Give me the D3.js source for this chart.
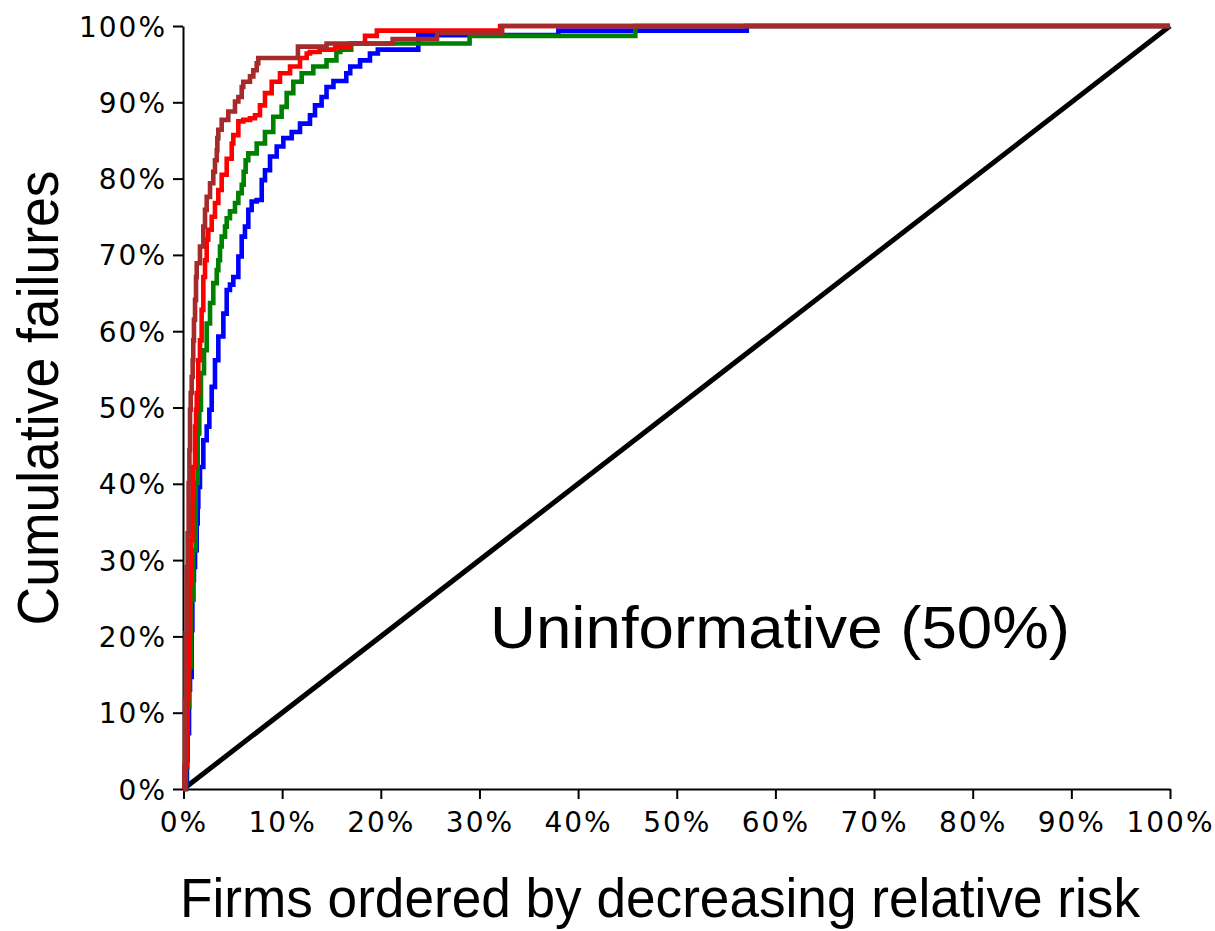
<!DOCTYPE html>
<html>
<head>
<meta charset="utf-8">
<script src="https://cdn.jsdelivr.net/npm/d3@7"></script>
<style>
  html, body { margin: 0; padding: 0; background: #fff; }
  svg { display: block; }
</style>
</head>
<body>
<svg id="chart" width="1215" height="931"></svg>
<script>
// ---- data (percent of firms, percent of cumulative failures) ----
const xTicks = [0, 10, 20, 30, 40, 50, 60, 70, 80, 90, 100];
const yTicks = [0, 10, 20, 30, 40, 50, 60, 70, 80, 90, 100];

const seriesBlue = [[0,0],[0.25,0.8],[0.35,3.8],[0.42,7.3],[0.56,13.0],[0.66,14.7],[0.83,20.8],[0.9,24.8],[0.99,27.4],[1.06,29.1],[1.17,31.3],[1.34,34.8],[1.44,37.0],[1.5,39.6],[1.67,42.2],[2.01,45.7],[2.35,47.5],[2.62,49.7],[2.86,52.7],[3.19,56.2],[3.53,59.3],[4.04,62.3],[4.38,65.4],[4.71,66.1],[5.05,67.1],[5.56,69.8],[5.9,72.4],[6.23,73.7],[6.57,75.9],[6.91,77.0],[7.42,77.2],[7.93,79.8],[8.26,81.1],[8.77,82.9],[9.45,84.2],[10.12,85.3],[10.97,86.1],[11.81,87.2],[12.82,88.3],[13.33,89.6],[14.0,90.7],[14.5,92.0],[15.2,92.8],[16.5,93.8],[16.9,94.7],[17.9,95.5],[18.9,96.4],[19.7,96.9],[23.8,98.8],[38.0,99.4],[57.1,100],[100,100]];

const seriesGreen = [[0,0],[0.25,2.9],[0.39,10.8],[0.59,16.0],[0.76,24.8],[0.99,31.3],[1.24,40.1],[1.44,46.6],[1.6,49.7],[1.77,54.5],[2.08,57.5],[2.35,61.0],[2.69,63.7],[3.02,66.3],[3.37,68.0],[3.53,69.3],[3.7,71.1],[3.87,72.4],[4.21,73.7],[4.38,74.8],[4.71,75.7],[5.22,76.8],[5.56,78.1],[5.9,79.2],[6.1,80.9],[6.3,82.4],[6.57,83.3],[7.42,84.6],[8.26,86.1],[9.1,88.1],[9.95,89.4],[10.46,91.2],[11.13,92.7],[11.98,93.8],[13.16,94.7],[14.5,95.5],[15.5,96.6],[15.9,96.9],[17.0,97.7],[29.0,98.7],[45.8,100],[100,100]];

const seriesRed = [[0,0],[0.1,3.0],[0.32,7.3],[0.42,11.7],[0.49,16.0],[0.56,20.4],[0.66,27.0],[0.76,32.6],[0.9,37.9],[0.99,42.2],[1.17,47.5],[1.27,49.7],[1.34,51.9],[1.5,56.2],[1.67,58.8],[1.84,62.8],[2.01,67.1],[2.18,69.3],[2.35,72.0],[2.51,73.3],[2.86,75.0],[3.19,76.8],[3.53,78.5],[3.87,80.5],[4.38,82.6],[4.89,84.6],[5.05,85.7],[5.56,87.5],[6.06,87.7],[6.74,87.9],[7.25,88.3],[7.75,89.6],[8.26,91.2],[8.94,92.7],[9.78,93.8],[10.8,94.7],[11.81,95.8],[12.49,96.4],[12.82,96.6],[13.8,96.9],[15.4,97.3],[16.9,97.7],[18.4,98.7],[19.6,99.4],[32.1,100],[100,100]];

const seriesBrown = [[0,0],[0.08,2.9],[0.15,11.7],[0.22,20.4],[0.32,29.1],[0.42,33.5],[0.52,40.1],[0.6,44.4],[0.66,49.7],[0.73,51.9],[0.83,54.0],[0.93,56.2],[0.99,58.8],[1.06,61.5],[1.17,64.1],[1.27,67.1],[1.34,68.9],[1.67,71.1],[2.01,73.7],[2.18,75.9],[2.35,77.6],[2.69,79.4],[3.02,80.9],[3.19,82.4],[3.37,83.7],[3.43,85.3],[3.53,86.4],[3.87,87.7],[4.54,88.8],[5.22,90.1],[5.56,90.7],[5.9,92.0],[6.06,92.7],[6.74,93.4],[7.08,94.2],[7.42,95.1],[7.58,95.8],[11.6,97.3],[14.5,97.7],[21.2,98.3],[25.7,99.1],[32.3,100],[100,100]];

const seriesDiagonal = [[0,0],[100,100]];

const seriesColors = ["#0000ff", "#008000", "#ff0000", "#a52a2a"];
const xTitle = "Firms ordered by decreasing relative risk";
const yTitle = "Cumulative failures";
const noteText = "Uninformative (50%)";

// ---- drawing ----
const svg = d3.select("#chart");
const x = d3.scaleLinear().domain([0, 100]).range([183.5, 1170]);
const y = d3.scaleLinear().domain([0, 100]).range([789, 26]);

const tickFont = "'DejaVu Sans', sans-serif";

// axes
const xAxis = d3.axisBottom(x).tickValues(xTicks).tickFormat(d => d + "%").tickSize(10).tickSizeOuter(0).tickPadding(13);
const yAxis = d3.axisLeft(y).tickValues(yTicks).tickFormat(d => d + "%").tickSize(10).tickSizeOuter(0).tickPadding(6);

const gx = svg.append("g").attr("transform", "translate(0,789)").call(xAxis);
const gy = svg.append("g").attr("transform", "translate(183,0)").call(yAxis);

[gx, gy].forEach(g => {
  g.select(".domain").attr("stroke", "#000").attr("stroke-width", 2);
  g.selectAll(".tick line").attr("stroke", "#000").attr("stroke-width", 2);
  g.selectAll(".tick text")
    .attr("fill", "#000")
    .style("font-family", tickFont)
    .style("font-size", "28px")
    .style("letter-spacing", "2px");
});
gx.selectAll(".tick text").attr("dy", "0.71em");
gy.selectAll(".tick text").attr("dy", "0.36em");

// diagonal
const lineLinear = d3.line().x(d => x(d[0])).y(d => y(d[1]));
svg.append("path")
  .datum(seriesDiagonal)
  .attr("d", lineLinear)
  .attr("fill", "none")
  .attr("stroke", "#000")
  .attr("stroke-width", 5);

// cumulative step curves
const lineStep = d3.line().x(d => x(d[0])).y(d => y(d[1])).curve(d3.curveStepAfter);
[seriesBlue, seriesGreen, seriesRed, seriesBrown].forEach((s, i) => {
  svg.append("path")
    .datum(s)
    .attr("d", lineStep)
    .attr("fill", "none")
    .attr("stroke", seriesColors[i])
    .attr("stroke-width", 4.6)
    .attr("stroke-linejoin", "miter");
});

// titles
const titleFont = "'Liberation Sans', Arial, sans-serif";
svg.append("text")
  .attr("x", 660).attr("y", 917)
  .attr("text-anchor", "middle")
  .attr("textLength", 960).attr("lengthAdjust", "spacingAndGlyphs")
  .style("font-family", titleFont).style("font-size", "55px")
  .attr("fill", "#000")
  .text(xTitle);

svg.append("text")
  .attr("transform", "translate(58,398) rotate(-90)")
  .attr("text-anchor", "middle")
  .attr("textLength", 455).attr("lengthAdjust", "spacingAndGlyphs")
  .style("font-family", titleFont).style("font-size", "58px")
  .attr("fill", "#000")
  .text(yTitle);

svg.append("text")
  .attr("x", 780).attr("y", 648)
  .attr("text-anchor", "middle")
  .attr("textLength", 580).attr("lengthAdjust", "spacingAndGlyphs")
  .style("font-family", titleFont).style("font-size", "60px")
  .attr("fill", "#000")
  .text(noteText);
</script>
</body>
</html>
